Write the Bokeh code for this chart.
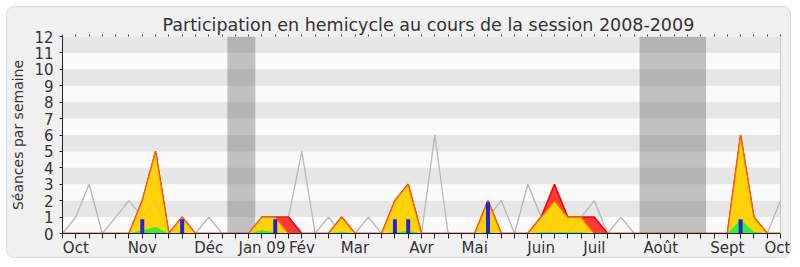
from bokeh.plotting import figure
from bokeh.models import FixedTicker, LinearAxis, Range1d
from bokeh.embed import file_html
from bokeh.resources import INLINE

# ---- data (one value per week of the session, week 0 = end of Sept 2008) ----
weeks = list(range(55))
seances = [0, 1, 3, 0, 1, 2, 1, 2, 0, 1,
           0, 1, 0, 0, 0, 1, 1, 1, 5, 0,
           1, 0, 0, 1, 0, 0, 0, 0, 6, 0,
           0, 0, 1, 2, 0, 3, 1, 0, 0, 1,
           2, 0, 1, 0, 0, 0, 0, 0, 0, 0,
           0, 0, 0, 0, 2]
presences = [0, 0, 0, 0, 0, 0, 2, 5, 0, 1,
             0, 0, 0, 0, 0, 1, 1, 1, 0, 0,
             0, 1, 0, 0, 0, 2, 3, 0, 0, 0,
             0, 0, 2, 0, 0, 0, 1, 3, 1, 1,
             1, 0, 0, 0, 0, 0, 0, 0, 0, 0,
             0, 6, 1, 0, 0]
participations = [0, 0, 0, 0, 0, 0, 2, 5, 0, 1,
                  0, 0, 0, 0, 0, 1, 1, 0, 0, 0,
                  0, 1, 0, 0, 0, 2, 3, 0, 0, 0,
                  0, 0, 2, 0, 0, 0, 1, 2, 1, 1,
                  0, 0, 0, 0, 0, 0, 0, 0, 0, 0,
                  0, 6, 1, 0, 0]
interventions = [0, 0, 0, 0, 0, 0, 0.2, 0.4, 0, 0.05,
                 0, 0, 0, 0, 0, 0.2, 0.06, 0, 0, 0,
                 0, 0.1, 0, 0, 0, 0.08, 0.15, 0, 0, 0,
                 0, 0, 0.08, 0, 0, 0, 0.07, 0.07, 0.07, 0.07,
                 0, 0, 0, 0, 0, 0, 0, 0, 0, 0,
                 0, 0.85, 0.1, 0, 0]
question_weeks = [6, 9, 16, 25, 26, 32, 51]
question_vals = [0.87, 0.87, 0.87, 0.87, 0.87, 1.9, 0.87]
month_weeks = [1, 6, 11, 15, 18, 22, 27, 31, 36, 40, 45, 50, 54]
month_labels = ["Oct", "Nov", "Déc", "Jan 09", "Fév", "Mar", "Avr", "Mai",
                "Juin", "Juil", "Août", "Sept", "Oct"]
vacances_start = [12.4, 43.4]
vacances_end = [14.5, 48.4]
y_ticks = list(range(13))

FONT = "DejaVu Sans"
TXT = "#333333"

p = figure(width=785, height=252, x_range=Range1d(0, 54), y_range=Range1d(0, 12),
           output_backend="svg", toolbar_location=None,
           min_border_left=55, min_border_right=12, min_border_top=29, min_border_bottom=26)
p.styles = {"margin-left": "6px", "margin-top": "6px", "border": "1px solid #D9D9D9",
            "border-radius": "8px", "overflow": "hidden", "background-color": "#F0F0F0"}
p.border_fill_color = "#F0F0F0"
p.background_fill_color = "#FAFAFA"
p.outline_line_color = None
p.grid.visible = False

p.title.text = "Participation en hemicycle au cours de la session 2008-2009"
p.title.align = "left"
p.title.offset = 100
p.title.standoff = 0
p.title.text_font = FONT
p.title.text_font_size = "17.5px"
p.title.text_font_style = "normal"
p.title.text_color = TXT

# stripes
p.quad(left=-1, right=56, bottom=[t for t in y_ticks[:-1] if t % 2 == 1],
       top=[t + 1 for t in y_ticks[:-1] if t % 2 == 1], fill_color="#E6E6E6", line_color=None)

# holidays
p.quad(left=vacances_start, right=vacances_end, bottom=0, top=12,
       fill_color="#505050", fill_alpha=0.33, line_color=None)

p.line(weeks, seances, line_color="#B8B8B8", line_width=1.2)

p.varea(x=weeks, y1=0, y2=presences, fill_color="#FF3A3A")
p.line(weeks, presences, line_color="#F00000", line_width=1.5)
p.varea(x=weeks, y1=0, y2=participations, fill_color="#FFD20A")
p.line(weeks, participations, line_color="#FF6000", line_width=1.3)
p.varea(x=weeks, y1=0, y2=interventions, fill_color="#33EE33")
p.line(weeks, seances, line_color="#B8B8B8", line_width=1.2, line_alpha=0.25)

p.vbar(x=question_weeks, top=question_vals, width=0.3, fill_color="#2323DD", line_color=None)

# axes
xa = p.xaxis[0]
xa.ticker = FixedTicker(ticks=weeks)
lab = {w: "" for w in weeks}
for w, t in zip(month_weeks, month_labels):
    lab[w] = t
xa.major_label_overrides = lab
xa.major_tick_in = 0
xa.major_tick_out = 5
xa.minor_tick_out = 0
xa.axis_line_color = "#222222"
xa.major_tick_line_color = "#222222"
xa.major_label_standoff = 0
xa.major_label_text_font = FONT
xa.major_label_text_font_size = "15px"
xa.major_label_text_color = TXT

ya = p.yaxis[0]
ya.ticker = FixedTicker(ticks=y_ticks)
ya.major_tick_in = 0
ya.major_tick_out = 3
ya.minor_tick_out = 0
ya.axis_line_color = "#222222"
ya.major_tick_line_color = "#222222"
ya.major_label_standoff = 6
ya.major_label_text_font = FONT
ya.major_label_text_font_size = "15px"
ya.major_label_text_color = TXT
ya.axis_label = "Séances par semaine"
ya.axis_label_text_font = FONT
ya.axis_label_text_font_size = "14px"
ya.axis_label_text_font_style = "normal"
ya.axis_label_text_color = TXT
ya.axis_label_standoff = 5

top_ax = LinearAxis(ticker=FixedTicker(ticks=weeks), axis_line_color=None,
                    major_tick_in=0, major_tick_out=2, minor_tick_out=0,
                    major_tick_line_color="#444444",
                    major_label_overrides={w: "" for w in weeks},
                    major_label_text_font_size="2px",
                    major_label_standoff=0)
p.add_layout(top_ax, "above")
right_ax = LinearAxis(ticker=FixedTicker(ticks=[]), axis_line_color="#C8C8C8",
                      major_tick_out=0, minor_tick_out=0, major_label_standoff=0)
p.add_layout(right_ax, "right")

open("out.html", "w").write(file_html(p, INLINE))
